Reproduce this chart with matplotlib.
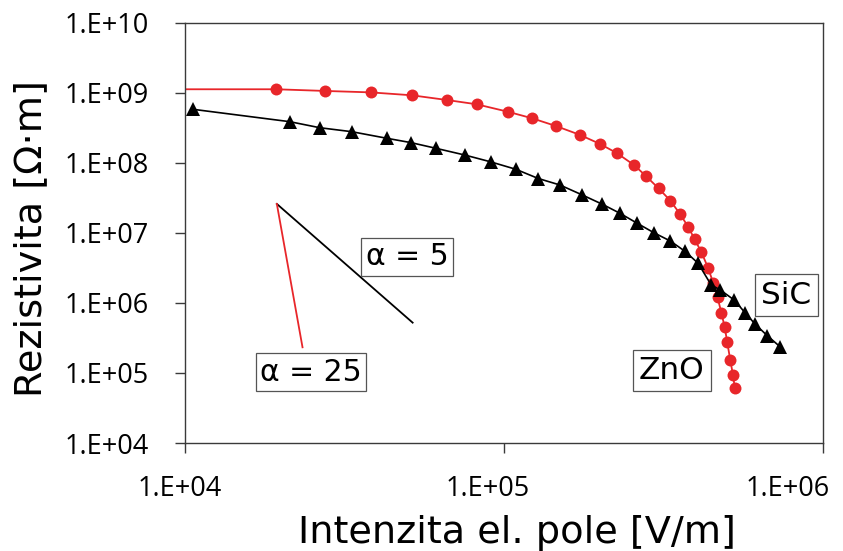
import numpy as np
import matplotlib
matplotlib.use('Agg')
import matplotlib.pyplot as plt
import matplotlib.transforms as mtransforms
from matplotlib.ticker import FixedLocator, FuncFormatter, NullLocator

plt.rcParams['font.family'] = 'DejaVu Sans'
plt.rcParams['axes.edgecolor'] = '#3a3a3a'
plt.rcParams['axes.linewidth'] = 1.0

RED = '#e8262a'

# ZnO (red circles)
zno_e = [1.93e4, 2.74e4, 3.82e4, 5.14e4, 6.62e4, 8.2e4, 1.028e5, 1.225e5, 1.453e5,
         1.726e5, 2.0e5, 2.26e5, 2.56e5, 2.79e5, 3.05e5, 3.32e5, 3.57e5, 3.78e5,
         3.96e5, 4.155e5, 4.37e5, 4.53e5, 4.67e5, 4.80e5, 4.92e5, 5.01e5, 5.12e5,
         5.22e5, 5.29e5]
zno_rho = [1.13e9, 1.07e9, 1.02e9, 9.27e8, 7.94e8, 6.9e8, 5.4e8, 4.35e8, 3.38e8,
           2.53e8, 1.87e8, 1.38e8, 9.3e7, 6.46e7, 4.35e7, 2.91e7, 1.84e7, 1.22e7,
           8.1e6, 5.35e6, 3.11e6, 1.91e6, 1.2e6, 7.3e5, 4.47e5, 2.73e5, 1.53e5,
           9.4e4, 6.1e4]
zno_line_start = (1.0e4, 1.13e9)

# SiC (black triangles)
sic_e = [1.058e4, 2.13e4, 2.645e4, 3.33e4, 4.30e4, 5.12e4, 6.12e4, 7.53e4, 9.07e4,
         1.089e5, 1.281e5, 1.497e5, 1.76e5, 2.034e5, 2.31e5, 2.62e5, 2.96e5, 3.32e5,
         3.70e5, 4.06e5, 4.46e5, 4.77e5, 5.27e5, 5.69e5, 6.14e5, 6.69e5, 7.35e5]
sic_rho = [5.85e8, 3.89e8, 3.19e8, 2.8e8, 2.25e8, 1.95e8, 1.62e8, 1.3e8, 1.04e8,
           8.13e7, 6.0e7, 4.85e7, 3.49e7, 2.57e7, 1.91e7, 1.37e7, 1.0e7, 7.69e6,
           5.44e6, 3.69e6, 1.81e6, 1.53e6, 1.1e6, 7.3e5, 4.93e5, 3.41e5, 2.35e5]

# slope guides
alpha5_e = [1.94e4, 5.17e4]
alpha5_rho = [2.6e7, 5.24e5]
alpha25_e = [1.94e4, 2.335e4]
alpha25_rho = [2.6e7, 2.33e5]

x_ticks = [1e4, 1e5, 1e6]
y_ticks = [1e4, 1e5, 1e6, 1e7, 1e8, 1e9, 1e10]

fig = plt.figure(figsize=(8.43, 5.51), dpi=100)
ax = fig.add_axes([0.2195, 0.196, 0.7568, 0.7623])

ax.set_xscale('log')
ax.set_yscale('log')
ax.set_xlim(1e4, 1e6)
ax.set_ylim(1e4, 1e10)

ax.plot([zno_line_start[0]] + zno_e, [zno_line_start[1]] + zno_rho, '-', color=RED, lw=1.3, zorder=2)
ax.plot(zno_e, zno_rho, 'o', color=RED, ms=8.6, mew=0, zorder=3)
ax.plot(sic_e, sic_rho, '-^', color='black', lw=1.2, ms=9.5, mew=0, zorder=4)

ax.plot(alpha5_e, alpha5_rho, color='black', lw=1.3)
ax.plot(alpha25_e, alpha25_rho, color=RED, lw=1.3)

box = dict(boxstyle='square,pad=0.15', fc='white', ec='#555555', lw=0.9)
ax.text(4.96e4, 4.54e6, 'α = 5', fontsize=21.5, ha='center', va='center', bbox=box)
ax.text(2.48e4, 1.02e5, 'α = 25', fontsize=21.5, ha='center', va='center', bbox=box)
box2 = dict(boxstyle='square,pad=0.2', fc='white', ec='#555555', lw=0.9)
ax.text(7.67e5, 1.3e6, 'SiC', fontsize=22.5, ha='center', va='center', bbox=box2)
ax.text(3.36e5, 1.08e5, 'ZnO', fontsize=22.5, ha='center', va='center', bbox=box2)

fmt = FuncFormatter(lambda v, p: '1.E+%02d' % int(round(np.log10(v))))
ax.xaxis.set_major_locator(FixedLocator(x_ticks))
ax.yaxis.set_major_locator(FixedLocator(y_ticks))
ax.xaxis.set_minor_locator(NullLocator())
ax.yaxis.set_minor_locator(NullLocator())
ax.xaxis.set_major_formatter(fmt)
ax.yaxis.set_major_formatter(fmt)
ax.tick_params(axis='both', direction='out', length=7, width=1.0, color='#3a3a3a',
               labelsize=19.5, labelfontfamily='Open Sans')
ax.tick_params(axis='x', pad=16)
ax.tick_params(axis='y', pad=19)

# the x tick labels sit a bit left of their ticks in the original
x_shift = [-3.6, -11.9, -25.2]
for tick, dx in zip(ax.xaxis.get_major_ticks(len(x_ticks)), x_shift):
    off = mtransforms.ScaledTranslation(dx / 72, 0, fig.dpi_scale_trans)
    tick.label1.set_transform(tick.label1.get_transform() + off)

ax.set_xlabel('Intenzita el. pole [V/m]', fontsize=27.5)
ax.set_ylabel('Rezistivita [Ω·m]', fontsize=27.5)
ax.xaxis.set_label_coords(0.52, -0.172)
ax.yaxis.set_label_coords(-0.213, 0.487)

fig.savefig('out.png', dpi=100)
